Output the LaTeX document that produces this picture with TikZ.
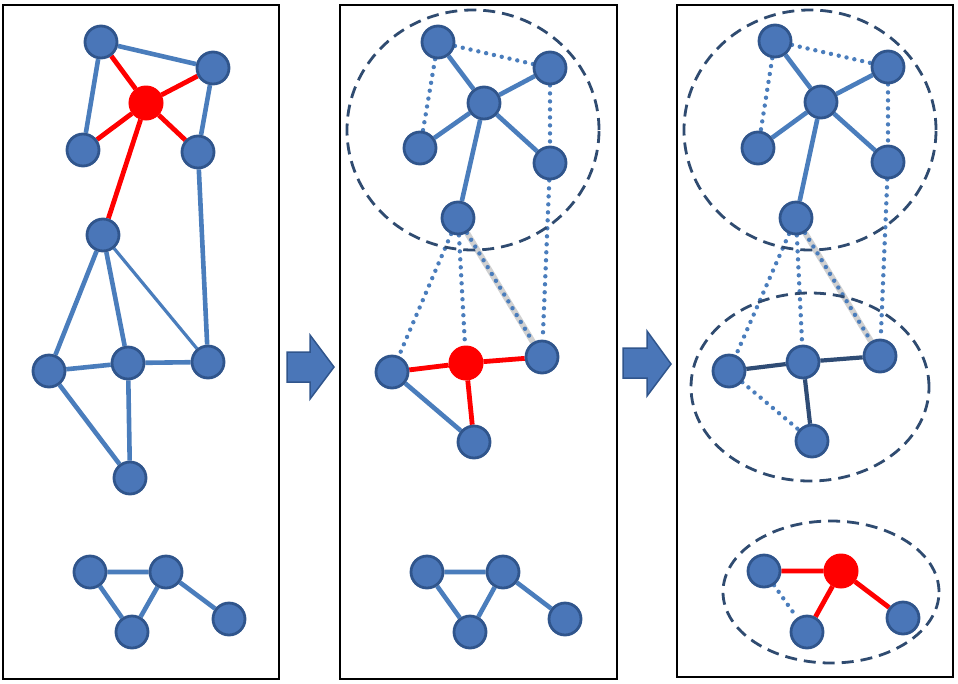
\documentclass[tikz,border=0pt]{standalone}
\usepackage{tikz}
\usetikzlibrary{calc,backgrounds}
\definecolor{nodeblue}{HTML}{4A76B8}
\definecolor{nodeline}{HTML}{30558C}
\definecolor{edgeblue}{HTML}{4A7DBC}
\definecolor{darkedge}{HTML}{2F4C75}
\definecolor{groupline}{HTML}{2F4B70}
\tikzstyle{vertex}=[circle,fill=nodeblue,draw=nodeline,line width=2.8pt,minimum size=32pt,inner sep=0pt]
\tikzstyle{hub}=[circle,fill=red,draw=red,line width=1pt,minimum size=34pt,inner sep=0pt]
\tikzstyle{panel}=[rectangle,draw=black,line width=2.8pt,inner sep=0pt,anchor=center]
\tikzstyle{edge}=[draw=edgeblue,line width=4.6pt]
\tikzstyle{thinedge}=[draw=edgeblue,line width=3.2pt]
\tikzstyle{redge}=[draw=red,line width=4.8pt]
\tikzstyle{dkedge}=[draw=darkedge,line width=4.2pt]
\tikzstyle{dotedge}=[draw=edgeblue,line width=4.4pt,line cap=round,dash pattern=on 0pt off 8pt]
\tikzstyle{shadeedge}=[draw=black!18,line width=6pt]
\tikzstyle{group}=[draw=groupline,line width=2.8pt,dash pattern=on 12pt off 7pt]
\tikzstyle{bigarrow}=[fill=nodeblue,draw=nodeline,line width=1.5pt,line join=miter]
\newcommand{\drawpanels}[0]
{
  \node[panel, minimum width=276pt, minimum height=674pt](box1) at (141,342){};
  \node[panel, minimum width=277pt, minimum height=674pt](box2) at (478.5,342){};
  \node[panel, minimum width=276pt, minimum height=672pt](box3) at (815,341){};
}

\begin{document}
\begin{tikzpicture}[x=1pt,y=-1pt]
	\useasboundingbox (0,0) rectangle (958,683);

	\drawpanels{}

	% first panel
	\node[vertex](a1) at (101,42){};
	\node[vertex](b1) at (213,68){};
	\node[hub](r1) at (146,103){};
	\node[vertex](c1) at (83,150){};
	\node[vertex](d1) at (198,152){};
	\node[vertex](e1) at (103,235){};
	\node[vertex](f1) at (49,371){};
	\node[vertex](g1) at (128,363){};
	\node[vertex](h1) at (208,362){};
	\node[vertex](i1) at (130,478){};
	\node[vertex](j1) at (90,572){};
	\node[vertex](k1) at (166,572){};
	\node[vertex](l1) at (132,632){};
	\node[vertex](m1) at (229,619){};

	\begin{scope}[on background layer]
	\draw[edge] (a1) -- (b1) (a1) -- (c1) (b1) -- (d1) (d1) -- (h1);
	\draw[edge] (e1) -- (f1) (e1) -- (g1) (f1) -- (g1) (g1) -- (h1) (f1) -- (i1) (g1) -- (i1);
	\draw[thinedge] (e1) -- (h1);
	\draw[edge] (j1) -- (k1) (j1) -- (l1) (k1) -- (l1) (k1) -- (m1);
	\draw[redge] (r1) -- (a1) (r1) -- (b1) (r1) -- (c1) (r1) -- (d1) (r1) -- (e1);
	\end{scope}

	% second panel
	\draw[group] (473,130) ellipse [x radius=126pt, y radius=120pt];
	\node[vertex](a2) at (438,42){};
	\node[vertex](b2) at (550,68){};
	\node[vertex](r2) at (484,103){};
	\node[vertex](c2) at (420,148){};
	\node[vertex](d2) at (550,163){};
	\node[vertex](e2) at (458,218){};
	\node[vertex](f2) at (392,372){};
	\node[hub](g2) at (466,363){};
	\node[vertex](h2) at (542,357){};
	\node[vertex](i2) at (474,442){};
	\node[vertex](j2) at (427,572){};
	\node[vertex](k2) at (503,572){};
	\node[vertex](l2) at (470,632){};
	\node[vertex](m2) at (565,619){};

	\begin{scope}[on background layer]
	\draw[edge] (r2) -- (a2) (r2) -- (b2) (r2) -- (c2) (r2) -- (d2) (r2) -- (e2);
	\draw[dotedge] (a2) -- (b2) (a2) -- (c2) (b2) -- (d2) (d2) -- (h2) (e2) -- (f2) (e2) -- (g2);
	\draw[shadeedge] (e2) -- (h2);
	\draw[dotedge] (e2) -- (h2);
	\draw[edge] (f2) -- (i2);
	\draw[redge] (g2) -- (f2) (g2) -- (h2) (g2) -- (i2);
	\draw[edge] (j2) -- (k2) (j2) -- (l2) (k2) -- (l2) (k2) -- (m2);
	\end{scope}

	% third panel
	\draw[group] (810,130) ellipse [x radius=126pt, y radius=120pt];
	\draw[group] (810,387) ellipse [x radius=119pt, y radius=94pt];
	\draw[group] (831,592) ellipse [x radius=108pt, y radius=71pt];
	\node[vertex](a3) at (775,41){};
	\node[vertex](b3) at (888,67){};
	\node[vertex](r3) at (821,102){};
	\node[vertex](c3) at (758,148){};
	\node[vertex](d3) at (888,162){};
	\node[vertex](e3) at (796,218){};
	\node[vertex](f3) at (729,371){};
	\node[vertex](g3) at (803,362){};
	\node[vertex](h3) at (880,356){};
	\node[vertex](i3) at (812,441){};
	\node[vertex](j3) at (764,571){};
	\node[hub](k3) at (841,571){};
	\node[vertex](l3) at (807,632){};
	\node[vertex](m3) at (903,618){};

	\begin{scope}[on background layer]
	\draw[edge] (r3) -- (a3) (r3) -- (b3) (r3) -- (c3) (r3) -- (d3) (r3) -- (e3);
	\draw[dotedge] (a3) -- (b3) (a3) -- (c3) (b3) -- (d3) (d3) -- (h3) (e3) -- (f3) (e3) -- (g3);
	\draw[shadeedge] (e3) -- (h3);
	\draw[dotedge] (e3) -- (h3);
	\draw[dkedge] (g3) -- (f3) (g3) -- (h3) (g3) -- (i3);
	\draw[dotedge] (f3) -- (i3) (j3) -- (l3);
	\draw[redge] (k3) -- (j3) (k3) -- (l3) (k3) -- (m3);
	\end{scope}

	% arrows between the panels
	\draw[bigarrow] (287,352) -- (310,352) -- (310,335) -- (334,367) -- (310,399) -- (310,382) -- (287,382) -- cycle;
	\draw[bigarrow] (623,348) -- (647,348) -- (647,331) -- (671,364) -- (647,396) -- (647,378) -- (623,378) -- cycle;

\end{tikzpicture}
\end{document}
